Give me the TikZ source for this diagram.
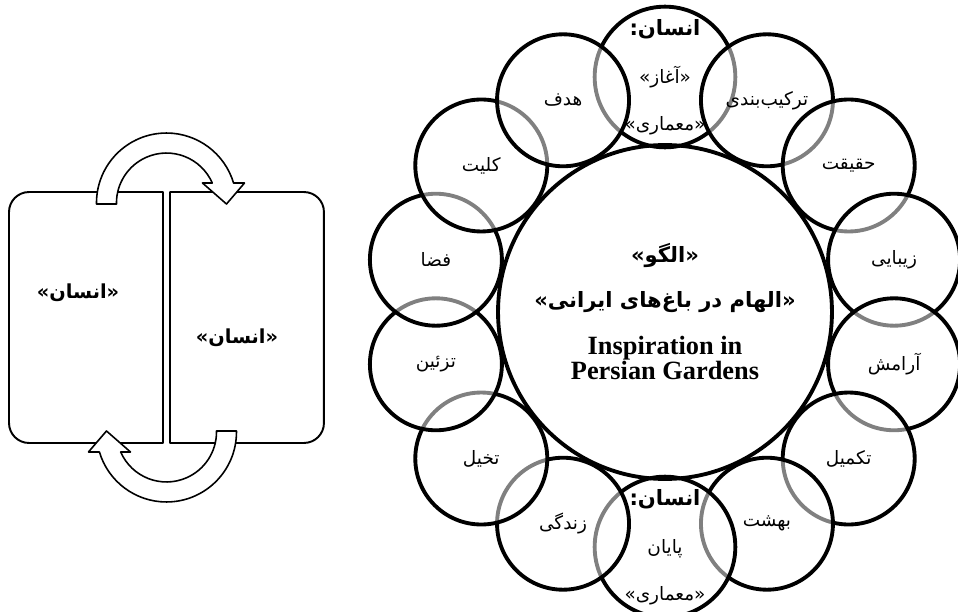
\documentclass[tikz,border=0pt]{standalone}
\usepackage{fontspec}
\setmainfont{Liberation Serif}
\newfontfamily\arabicfont[Script=Arabic]{DejaVu Sans}
\TeXXeTstate=1
\usetikzlibrary{calc,positioning}
\newcommand\fa[1]{{\arabicfont\beginR #1\endR}}
\newcommand\fab[1]{{\arabicfont\bfseries\beginR #1\endR}}
% curved block arrow, tail on the left, head on the right
\newcommand\turnarrow{%
  \draw[blockarrow] (-70,-1) -- (-70,0) arc[start angle=180,end angle=16.6,radius=70]
    -- (78,20) -- (60,-1) -- (36,20) -- (45.8,20)
    arc[start angle=23.6,end angle=180,radius=50] -- (-50,-1) -- cycle;}

\begin{document}
\begin{tikzpicture}[line cap=round,line join=round,x=0.02cm,y=0.02cm,
    box/.style={draw=none,inner sep=0,outer sep=0,minimum width=3.08cm,minimum height=5.02cm},
    boxline/.style={line width=1.1pt},
    blockarrow/.style={line width=0.9pt,fill=white},
    boxtxt/.style={inner sep=1pt,font=\fontsize{11}{13}\selectfont},
    hub/.style={circle,draw,line width=2.2pt,inner sep=0,minimum size=6.68cm},
    hubtxt/.style={inner sep=1pt,font=\fontsize{12}{15}\selectfont},
    petal/.style={circle,draw,line width=2.2pt,fill=white,fill opacity=0.5,text opacity=1,
      inner sep=0,minimum size=2.64cm,align=center,font=\fontsize{10.5}{12.5}\selectfont}]
\useasboundingbox (0,0) rectangle (958,-612);

% two halves
\node[box] (boxL) at (86,-317.5) {};
\node[box,right=0.14cm of boxL] (boxR) {};
\draw[boxline] (boxL.north east) -- ($(boxL.north west)+(20,0)$) arc[start angle=90,end angle=180,radius=20]
  -- ($(boxL.south west)+(0,20)$) arc[start angle=180,end angle=270,radius=20] -- (boxL.south east) -- cycle;
\draw[boxline] (boxR.north west) -- ($(boxR.north east)+(-20,0)$) arc[start angle=90,end angle=0,radius=20]
  -- ($(boxR.south east)+(0,20)$) arc[start angle=0,end angle=-90,radius=20] -- (boxR.south west) -- cycle;
\node[boxtxt] (manL) at ($(boxL.center)+(-8,25)$) {\fab{«انسان»}};
\node[boxtxt] (manR) at ($(boxR.center)+(-10,-20)$) {\fab{«انسان»}};

\coordinate (arcT) at ($(boxL.north east)!0.5!(boxR.north west)+(0,-11)$);
\coordinate (arcB) at ($(boxL.south east)!0.5!(boxR.south west)+(0,11)$);
\begin{scope}[shift={(arcT)}]
  \turnarrow
\end{scope}
\begin{scope}[shift={(arcB)},rotate=180]
  \turnarrow
\end{scope}

% ring of circles
\coordinate (ctr) at (665,-312);
\foreach \txt [count=\i from 0] in {
    {{\fontsize{12}{14}\selectfont\fab{انسان:}}\\[15pt]\fa{«آغاز»}\\[14pt]\fa{«معماری»}},
    \fa{ترکیب^^^^200cبندی},\fa{حقیقت},\fa{زیبایی},\fa{آرامش},\fa{تکمیل},\fa{بهشت},
    {{\fontsize{12}{14}\selectfont\fab{انسان:}}\\[15pt]\fa{پایان}\\[14pt]\fa{«معماری»}},
    \fa{زندگی},\fa{تخیل},\fa{تزئین},\fa{فضا},\fa{کلیت},\fa{هدف}}
  \node[petal] (p\i) at ($(ctr)+({90-\i*360/14}:235)$) {\txt};

\node[hub] (hub) at (ctr) {};
\node[hubtxt] (pattern) at ($(hub.center)+(0,57)$) {\fab{«الگو»}};
\node[hubtxt] (inspfa) at ($(hub.center)+(0,10)$) {\fab{«الهام در باغ^^^^200cهای ایرانی»}};
\node[hubtxt,align=center,font=\bfseries\fontsize{15}{14}\selectfont] (inspen)
  at ($(hub.center)+(0,-46)$) {Inspiration in\\Persian Gardens};
\end{tikzpicture}
\end{document}
